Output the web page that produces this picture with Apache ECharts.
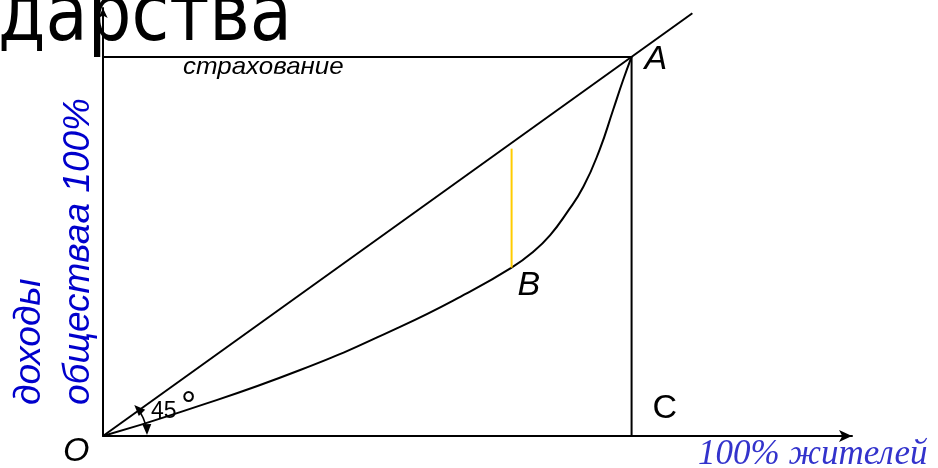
<!DOCTYPE html>
<html>
<head>
<meta charset="utf-8">
<script src="https://cdn.jsdelivr.net/npm/echarts@6/dist/echarts.min.js"></script>
<style>
html,body{margin:0;padding:0;background:#fff}
#main{width:938px;height:468px}
</style>
</head>
<body>
<div id="main"></div>
<script>
// данные кривой Лоренца (в % от максимума)
var lorenzX = [0, 14.6, 37.3, 56.2, 68.9, 77.3, 81.4, 84.6, 87.7, 90.9, 94.0, 96.5, 98.4, 100]
var lorenzY = [0, 6.3, 17.4, 28.8, 37.7, 44.4, 48.6, 53.0, 58.8, 65.8, 75.7, 86.0, 93.9, 100]
var diagX = [0, 111.5]
var diagY = [0, 111.5]
var boxX = [0, 100, 100]
var boxY = [100, 100, 0]
var gapX = [77.3, 77.3]
var gapY = [75.8, 44.4]
var pointNames = ['A', 'B', 'C', 'O']
var pointX = [100, 77.3, 100, 0]
var pointY = [100, 44.4, 0, 0]
var angleText = '45'
var degreeText = '°'
var titleText = 'дарства'
var xName = '100% жителей'
var yName = 'доходы\nобществаа 100%'
var lineName = 'страхование'

function pairs(xs, ys) {
	var out = []
	for (var i = 0; i < xs.length; i++) {
		out.push([xs[i], ys[i]])
	}
	return out
}

function plainLine(xs, ys, color, smooth) {
	return {
		type: 'line',
		data: pairs(xs, ys),
		smooth: smooth || false,
		symbol: 'none',
		silent: true,
		lineStyle: {color: color, width: 2}
	}
}

var chart = echarts.init(document.getElementById('main'))
var option = {
	animation: false,
	backgroundColor: '#fff',
	grid: {left: 103, right: 86, top: 8, bottom: 32},
	xAxis: {
		type: 'value',
		min: 0,
		max: 141.7,
		axisLine: {
			show: true,
			onZero: false,
			symbol: ['none', 'arrow'],
			symbolSize: [9, 13],
			lineStyle: {color: '#000', width: 2}
		},
		axisTick: {show: false},
		axisLabel: {show: false},
		splitLine: {show: false}
	},
	yAxis: {
		type: 'value',
		min: 0,
		max: 112.9,
		axisLine: {
			show: true,
			onZero: false,
			symbol: ['none', 'arrow'],
			symbolSize: [7, 10],
			lineStyle: {color: '#000', width: 2}
		},
		axisTick: {show: false},
		axisLabel: {show: false},
		splitLine: {show: false}
	},
	series: [
		plainLine(diagX, diagY, '#000'),
		plainLine(boxX, boxY, '#000'),
		plainLine(lorenzX, lorenzY, '#000', 0.5),
		plainLine(gapX, gapY, '#ffcc00')
	]
}
chart.setOption(option)

var labelFont = '"Liberation Sans", Arial, sans-serif'
// смещения подписей точек от самих точек
var labelStyle = {
	'A': {offset: [13, 3], italic: true},
	'B': {offset: [6, 17.5], italic: true},
	'C': {offset: [21, -27], italic: false},
	'O': {offset: [-40, 15.5], italic: true}
}

function pointText(txt, px, offset, size, italic) {
	return {
		type: 'text',
		x: px[0] + offset[0],
		y: px[1] + offset[1],
		style: {
			text: txt,
			font: (italic ? 'italic ' : '') + size + 'px ' + labelFont,
			fill: '#000',
			align: 'left',
			verticalAlign: 'middle'
		}
	}
}

var graphics = []
for (var i = 0; i < pointNames.length; i++) {
	var st = labelStyle[pointNames[i]]
	var p = chart.convertToPixel({gridIndex: 0}, [pointX[i], pointY[i]])
	graphics.push(pointText(pointNames[i], p, st.offset, 34, st.italic))
}

// дуга угла 45° со стрелками
var o = chart.convertToPixel({gridIndex: 0}, [0, 0])
graphics.push(pointText(angleText, o, [48, -24], 23, false))
graphics.push(pointText(degreeText, o, [78, -28], 38, false))

var r = 44
function arrowHead(theta, dir) {
	var tx = o[0] + r * Math.cos(theta)
	var ty = o[1] + r * Math.sin(theta)
	var dx = -Math.sin(theta) * dir
	var dy = Math.cos(theta) * dir
	var nx = Math.cos(theta)
	var ny = Math.sin(theta)
	var bx = tx - dx * 11
	var by = ty - dy * 11
	return [[tx, ty], [bx + nx * 4.5, by + ny * 4.5], [bx - nx * 4.5, by - ny * 4.5]]
}
graphics.push({
	type: 'arc',
	shape: {cx: o[0], cy: o[1], r: r, startAngle: -0.68, endAngle: -0.15, clockwise: true},
	style: {stroke: '#000', lineWidth: 1.5, fill: null}
})
graphics.push({type: 'polygon', shape: {points: arrowHead(-0.78, -1)}, style: {fill: '#000'}})
graphics.push({type: 'polygon', shape: {points: arrowHead(-0.02, 1)}, style: {fill: '#000'}})

graphics.push({
	type: 'text',
	x: -2,
	y: 19,
	scaleX: 0.86,
	style: {
		text: titleText,
		font: '80px "DejaVu Sans", sans-serif',
		fill: '#000',
		align: 'left',
		verticalAlign: 'middle'
	}
})
graphics.push({
	type: 'text',
	x: 183,
	y: 67,
	scaleX: 1.08,
	style: {
		text: lineName,
		font: 'italic 24px ' + labelFont,
		fill: '#000',
		align: 'left',
		verticalAlign: 'middle'
	}
})
graphics.push({
	type: 'text',
	x: 5,
	y: 405,
	rotation: Math.PI / 2,
	style: {
		text: yName,
		font: 'italic 37px ' + labelFont,
		lineHeight: 49,
		fill: '#0000cc',
		align: 'left',
		verticalAlign: 'top'
	}
})
graphics.push({
	type: 'text',
	x: 698,
	y: 455,
	style: {
		text: xName,
		font: 'italic 35px "Liberation Serif", "Times New Roman", serif',
		fill: '#3333cc',
		align: 'left',
		verticalAlign: 'middle'
	}
})

chart.setOption({graphic: graphics})
</script>
</body>
</html>
